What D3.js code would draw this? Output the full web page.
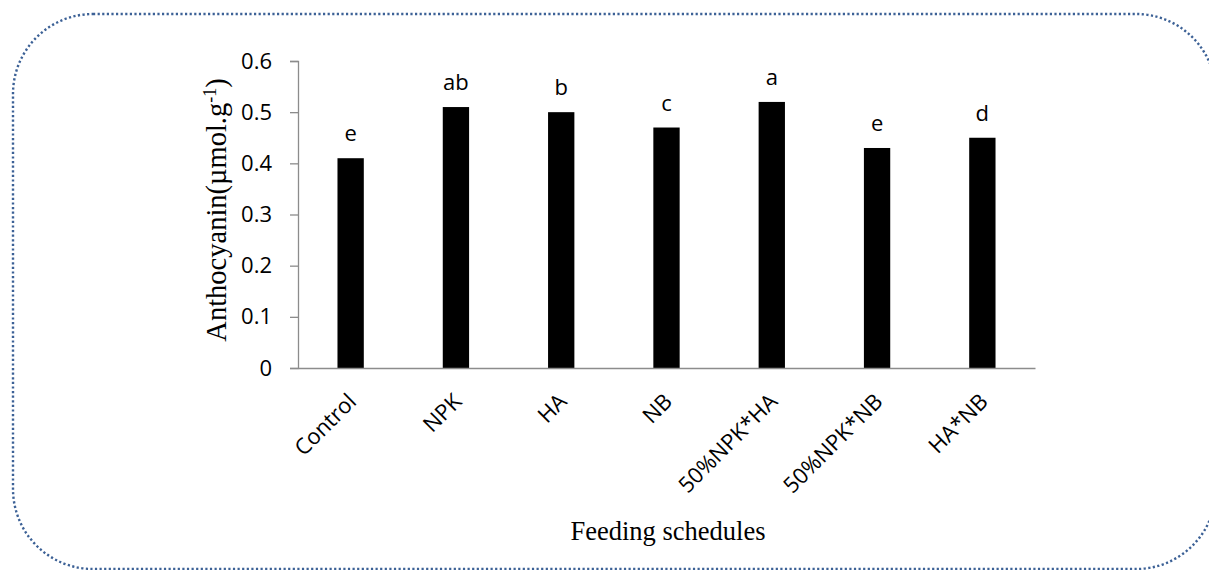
<!DOCTYPE html>
<html><head><meta charset="utf-8">
<script src="https://cdn.jsdelivr.net/npm/d3@7"></script>
<style>body{margin:0;background:#fff}svg{display:block}</style>
</head><body>
<svg id="c" width="1209" height="570"></svg>
<script>
const categories = ["Control","NPK","HA","NB","50%NPK*HA","50%NPK*NB","HA*NB"];
const values = [0.41,0.51,0.50,0.47,0.52,0.43,0.45];
const letters = ["e","ab","b","c","a","e","d"];
const yTicks = [0,0.1,0.2,0.3,0.4,0.5,0.6];

const svg = d3.select("#c");
svg.append("rect").attr("x",13).attr("y",14).attr("width",1203).attr("height",555)
  .attr("rx",80).attr("ry",80).attr("fill","none").attr("stroke","#3c6196")
  .attr("stroke-width",2.4).attr("stroke-dasharray","2.2,2.4");

const x = d3.scaleBand().domain(categories).range([298,1035]).paddingInner(0.75).paddingOuter(0.375);
const y = d3.scaleLinear().domain([0,0.6]).range([368,61]);

const axisColor = "#8c8c8c";
const sans = "'Open Sans', sans-serif";
const serif = "'Liberation Serif', 'Times New Roman', serif";

const yAxis = svg.append("g").attr("transform","translate(298,0)")
  .call(d3.axisLeft(y).tickValues(yTicks).tickSize(8).tickPadding(18).tickFormat(d=>d===0?"0":d3.format(".1f")(d)));
yAxis.select(".domain").attr("stroke",axisColor).attr("stroke-width",1.3);
yAxis.selectAll(".tick line").attr("stroke",axisColor).attr("stroke-width",1.3);
yAxis.selectAll("text").attr("font-family",sans).attr("font-size",22).attr("fill","#000");

svg.selectAll(".bar").data(categories).enter().append("rect")
  .attr("x",d=>x(d)).attr("width",x.bandwidth())
  .attr("y",(d,i)=>y(values[i])).attr("height",(d,i)=>y(0)-y(values[i]))
  .attr("fill","#000");

const xAxis = svg.append("g").attr("transform","translate(0,368)")
  .call(d3.axisBottom(x).tickSize(0).tickSizeOuter(0).tickPadding(0));
xAxis.select(".domain").attr("stroke",axisColor).attr("stroke-width",1.5);
xAxis.selectAll("text").remove();
xAxis.selectAll(".tick").append("text")
  .attr("transform","translate(7,35) rotate(-45)")
  .attr("text-anchor","end").attr("font-family",sans)
  .attr("font-size",22).attr("fill","#000").text(d=>d);

svg.selectAll(".lbl").data(categories).enter().append("text")
  .attr("x",d=>x(d)+x.bandwidth()/2).attr("y",(d,i)=>y(values[i])-17)
  .attr("text-anchor","middle").attr("font-family",sans)
  .attr("font-size",22).attr("fill","#000").text((d,i)=>letters[i]);

const yt = svg.append("text").attr("transform","translate(226,210) rotate(-90)")
  .attr("text-anchor","middle").attr("font-family",serif)
  .attr("font-size",28.5).attr("fill","#000");
yt.append("tspan").text("Anthocyanin(µmol.g");
yt.append("tspan").attr("dy",-10).attr("font-size",18).text("-1");
yt.append("tspan").attr("dy",10).text(")");

svg.append("text").attr("x",668).attr("y",540).attr("text-anchor","middle")
  .attr("font-family",serif).attr("font-size",26.5).attr("fill","#000")
  .text("Feeding schedules");
</script>
</body></html>
